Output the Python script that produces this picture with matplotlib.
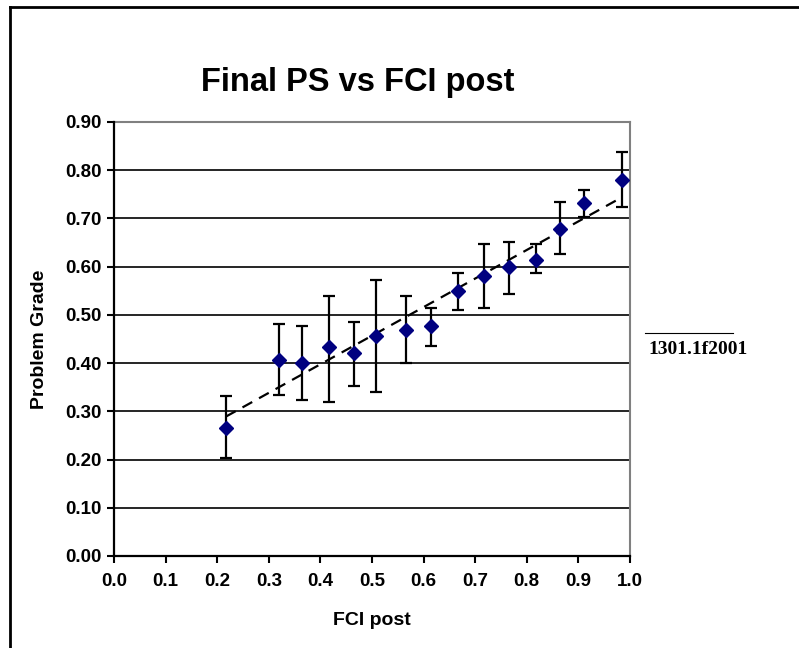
import numpy as np
import matplotlib
matplotlib.use('Agg')
import matplotlib.pyplot as plt
from matplotlib.lines import Line2D

# 데이터
fci_post = [0.217, 0.320, 0.365, 0.417, 0.465, 0.508, 0.566, 0.614,
            0.666, 0.718, 0.766, 0.818, 0.864, 0.911, 0.984]
problem_grade = [0.266, 0.407, 0.400, 0.433, 0.420, 0.456, 0.469, 0.477,
                 0.550, 0.581, 0.599, 0.614, 0.678, 0.731, 0.779]
err_top = [0.332, 0.481, 0.477, 0.539, 0.486, 0.573, 0.539, 0.515,
           0.586, 0.647, 0.651, 0.647, 0.735, 0.759, 0.838]
err_bottom = [0.204, 0.333, 0.324, 0.320, 0.353, 0.341, 0.400, 0.436,
              0.511, 0.515, 0.544, 0.587, 0.627, 0.703, 0.723]

x_ticks = [0.0, 0.1, 0.2, 0.3, 0.4, 0.5, 0.6, 0.7, 0.8, 0.9, 1.0]
y_ticks = [0.0, 0.1, 0.2, 0.3, 0.4, 0.5, 0.6, 0.7, 0.8, 0.9]

plt.rcParams['font.family'] = ['Liberation Sans', 'DejaVu Sans']

W, H = 799, 648
fig = plt.figure(figsize=(W / 100, H / 100), dpi=100)
ax = fig.add_axes([114 / W, 1 - 556 / H, (630 - 114) / W, (556 - 122) / H])

x = np.array(fci_post)
y = np.array(problem_grade)
yerr = [y - np.array(err_bottom), np.array(err_top) - y]

# 가로 격자선
for v in y_ticks[1:-1]:
    ax.axhline(v, color='black', lw=1.2, zorder=1)

# 추세선 (선형 회귀)
slope, intercept = np.polyfit(x, y, 1)
xt = np.array([x.min(), x.max()])
ax.plot(xt, slope * xt + intercept, color='black', lw=1.6,
        dashes=(5, 3.5), zorder=2)

ax.errorbar(x, y, yerr=yerr, fmt='none', ecolor='black', elinewidth=1.6,
            capsize=4.5, capthick=1.6, zorder=3)
ax.plot(x, y, linestyle='none', marker='D', markersize=7,
        color='#000080', markeredgecolor='#000080', zorder=4)

ax.set_xlim(0, 1.0)
ax.set_ylim(0, 0.9)
ax.set_xticks(x_ticks)
ax.set_xticklabels([f'{v:.1f}' for v in x_ticks])
ax.set_yticks(y_ticks)
ax.set_yticklabels([f'{v:.2f}' for v in y_ticks])
ax.tick_params(direction='out', length=5, width=1.5, colors='black',
               labelsize=13.5, pad=4)
ax.tick_params(axis='x', pad=7)
for lab in ax.get_xticklabels() + ax.get_yticklabels():
    lab.set_fontweight('bold')

ax.spines['left'].set_linewidth(1.6)
ax.spines['bottom'].set_linewidth(1.6)
ax.spines['top'].set_color('#808080')
ax.spines['right'].set_color('#808080')
ax.spines['top'].set_linewidth(1.5)
ax.spines['right'].set_linewidth(1.5)
ax.spines['left'].set_zorder(5)
ax.spines['bottom'].set_zorder(5)

ax.set_xlabel('FCI post', fontsize=14, fontweight='bold', labelpad=16)
ax.set_ylabel('Problem Grade', fontsize=14, fontweight='bold', labelpad=12)

fig.text(358 / W, 1 - 83 / H, 'Final PS vs FCI post', fontsize=23.5,
         fontweight='bold', ha='center', va='center')

# 오른쪽 주석
fig.add_artist(Line2D([645 / W, 733 / W], [1 - 333 / H, 1 - 333 / H],
                      color='black', lw=0.8))
fig.text(648 / W, 1 - 350 / H, '1301.1f2001', fontsize=14,
         fontweight='bold', family=['Liberation Serif', 'DejaVu Serif'],
         ha='left', va='center')

# 바깥 테두리 (왼쪽, 위쪽)
fig.add_artist(Line2D([10 / W, 10 / W], [-0.1, 1 - 7 / H], color='black', lw=2))
fig.add_artist(Line2D([10 / W, 1.1], [1 - 7 / H, 1 - 7 / H], color='black', lw=2))

fig.savefig('out.png', dpi=100)
